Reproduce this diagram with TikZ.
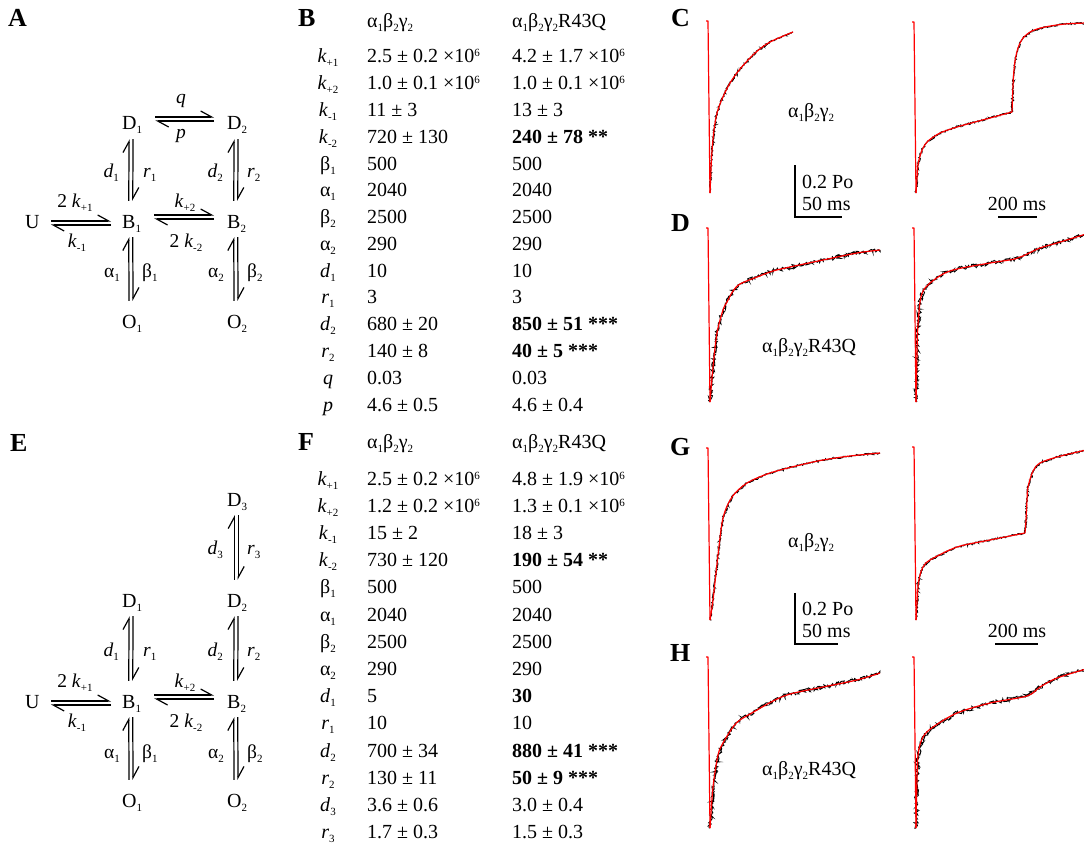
\documentclass[tikz,border=0pt]{standalone}
\usepackage{fontspec}
\setmainfont{Liberation Serif}
\usetikzlibrary{arrows.meta, calc, decorations.pathmorphing}

\newcommand{\lo}[1]{\raisebox{-4pt}{\fontsize{11}{11}\selectfont #1}}
\newcommand{\hi}[1]{\raisebox{6pt}{\fontsize{11}{11}\selectfont #1}}
\newcommand{\abg}{α\lo{1}β\lo{2}γ\lo{2}}
\newcommand{\tk}{\textit{k}}

% pair of opposite harpoons, forward one on its left
\newcommand{\hrates}[4]{%
  \draw[harp, shorten <=#3, shorten >=#3, transform canvas={yshift=#4+2pt}] (#1) -- (#2);
  \draw[harp, shorten <=#3, shorten >=#3, transform canvas={yshift=#4-2pt}] (#2) -- (#1);
}
\newcommand{\vrates}[2]{%
  \draw[harp, shorten <=5pt, shorten >=9pt, transform canvas={xshift=1pt}] (#1) -- (#2);
  \draw[harp, shorten <=9pt, shorten >=5pt, transform canvas={xshift=-3pt}] (#2) -- (#1);
}
\newcommand{\fittrace}[2]{%
  \draw[noisy=#1] plot coordinates {#2};
  \draw[fit] plot[smooth, tension=0.5] coordinates {#2};
}

\tikzset{
  state/.style={inner sep=0pt, text height=18pt, text depth=4pt, anchor=base west,
    font=\fontsize{20}{24}\selectfont},
  rate/.style={inner sep=0pt, font=\fontsize{19.5}{22}\selectfont},
  panel/.style={inner sep=0pt, anchor=base west, font=\fontsize{26}{30}\selectfont\bfseries},
  cell/.style={inner sep=0pt, anchor=base west, font=\fontsize{20}{24}\selectfont},
  sym/.style={inner sep=0pt, anchor=base, font=\fontsize{20}{24}\selectfont},
  harp/.style={line width=1.2pt, -{Straight Barb[left, length=11pt, width=12pt]}},
  fit/.style={red, line width=1.2pt, line join=round},
  noisy/.style={black, line width=0.9pt, decorate,
    decoration={random steps, segment length=1pt, amplitude=#1}},
  bar/.style={line width=2pt},
}

\begin{document}
\begin{tikzpicture}[x=1pt, y=-1pt]
\useasboundingbox (0,0) rectangle (1084,848);
\pgfmathsetseed{11}

% panel letters
\node[panel] (labA) at (8,27) {A};
\node[panel] (labB) at (298,27) {B};
\node[panel] (labC) at (671,27) {C};
\node[panel] (labD) at (671,231) {D};
\node[panel] (labE) at (10,451) {E};
\node[panel] (labF) at (298,450) {F};
\node[panel] (labG) at (670,455) {G};
\node[panel] (labH) at (670,661) {H};

%-------------------------------------------------------------------------------
% scheme A
%-------------------------------------------------------------------------------
\node[state] (aU) at (25,228) {U};
\node[state] (aD1) at (122,130) {D\lo{1}};
\node[state] (aD2) at (227,130) {D\lo{2}};
\node[state] (aB1) at (122,228) {B\lo{1}};
\node[state] (aB2) at (227,228) {B\lo{2}};
\node[state] (aO1) at (122,328) {O\lo{1}};
\node[state] (aO2) at (227,328) {O\lo{2}};
% transitions
\hrates{aU}{aB1}{11pt}{-2pt}
\hrates{aB1}{aB2}{13pt}{4pt}
\hrates{aD1}{aD2}{13pt}{4pt}
\vrates{aD1}{aB1}
\vrates{aD2}{aB2}
\vrates{aB1}{aO1}
\vrates{aB2}{aO2}
% rate labels
\node[rate, anchor=base] (aq) at (181,104) {\textit{q}};
\node[rate, anchor=base] (ap) at (181,139) {\textit{p}};
\node[rate, anchor=base] (akp1) at (75,207) {2 \tk\lo{+1}};
\node[rate, anchor=base] (akm1) at (77,247) {\tk\lo{-1}};
\node[rate, anchor=base] (akp2) at (185,207) {\tk\lo{+2}};
\node[rate, anchor=base] (akm2) at (186,247) {2 \tk\lo{-2}};
\node[rate, anchor=base east] (ad1) at (119,177) {\textit{d}\lo{1}};
\node[rate, anchor=base west] (ar1) at (143,177) {\textit{r}\lo{1}};
\node[rate, anchor=base east] (ad2) at (223,177) {\textit{d}\lo{2}};
\node[rate, anchor=base west] (ar2) at (247,177) {\textit{r}\lo{2}};
\node[rate, anchor=base east] (aa1) at (120,277) {α\lo{1}};
\node[rate, anchor=base west] (ab1) at (142,277) {β\lo{1}};
\node[rate, anchor=base east] (aa2) at (224,277) {α\lo{2}};
\node[rate, anchor=base west] (ab2) at (247,277) {β\lo{2}};

%-------------------------------------------------------------------------------
% scheme E
%-------------------------------------------------------------------------------
\node[state] (eD3) at (227,506) {D\lo{3}};
\node[state] (eU) at (25,708) {U};
\node[state] (eD1) at (122,607) {D\lo{1}};
\node[state] (eD2) at (227,607) {D\lo{2}};
\node[state] (eB1) at (122,708) {B\lo{1}};
\node[state] (eB2) at (227,708) {B\lo{2}};
\node[state] (eO1) at (122,807) {O\lo{1}};
\node[state] (eO2) at (227,807) {O\lo{2}};
% transitions
\hrates{eU}{eB1}{11pt}{-2pt}
\hrates{eB1}{eB2}{13pt}{4pt}
\vrates{eD3}{eD2}
\vrates{eD1}{eB1}
\vrates{eD2}{eB2}
\vrates{eB1}{eO1}
\vrates{eB2}{eO2}
% rate labels
\node[rate, anchor=base east] (ed3) at (223,554) {\textit{d}\lo{3}};
\node[rate, anchor=base west] (er3) at (247,554) {\textit{r}\lo{3}};
\node[rate, anchor=base] (ekp1) at (75,687) {2 \tk\lo{+1}};
\node[rate, anchor=base] (ekm1) at (77,727) {\tk\lo{-1}};
\node[rate, anchor=base] (ekp2) at (185,687) {\tk\lo{+2}};
\node[rate, anchor=base] (ekm2) at (186,727) {2 \tk\lo{-2}};
\node[rate, anchor=base east] (ed1) at (119,656) {\textit{d}\lo{1}};
\node[rate, anchor=base west] (er1) at (143,656) {\textit{r}\lo{1}};
\node[rate, anchor=base east] (ed2) at (223,656) {\textit{d}\lo{2}};
\node[rate, anchor=base west] (er2) at (247,656) {\textit{r}\lo{2}};
\node[rate, anchor=base east] (ea1) at (120,758) {α\lo{1}};
\node[rate, anchor=base west] (eb1) at (142,758) {β\lo{1}};
\node[rate, anchor=base east] (ea2) at (224,758) {α\lo{2}};
\node[rate, anchor=base west] (eb2) at (247,758) {β\lo{2}};

%-------------------------------------------------------------------------------
% tables B and F
%-------------------------------------------------------------------------------
\node[cell] (Bhwt) at (367,28) {\abg};
\node[cell] (Bhmut) at (512,28) {\abg R43Q};
\foreach \lab/\wt/\mut [count=\i from 0] in {
  {\tk\lo{+1}}/{2.5 ± 0.2 ×10\hi{6}}/{4.2 ± 1.7 ×10\hi{6}},
  {\tk\lo{+2}}/{1.0 ± 0.1 ×10\hi{6}}/{1.0 ± 0.1 ×10\hi{6}},
  {\tk\lo{-1}}/{11 ± 3}/{13 ± 3},
  {\tk\lo{-2}}/{720 ± 130}/{\textbf{240 ± 78 **}},
  {β\lo{1}}/{500}/{500},
  {α\lo{1}}/{2040}/{2040},
  {β\lo{2}}/{2500}/{2500},
  {α\lo{2}}/{290}/{290},
  {\textit{d}\lo{1}}/{10}/{10},
  {\textit{r}\lo{1}}/{3}/{3},
  {\textit{d}\lo{2}}/{680 ± 20}/{\textbf{850 ± 51 ***}},
  {\textit{r}\lo{2}}/{140 ± 8}/{\textbf{40 ± 5 ***}},
  {\textit{q}}/{0.03}/{0.03},
  {\textit{p}}/{4.6 ± 0.5}/{4.6 ± 0.4}}
{
  \node[sym] (Bsym\i) at (328, 63+26.77*\i) {\lab};
  \node[cell] (Bwt\i) at (367, 63+26.77*\i) {\wt};
  \node[cell] (Bmut\i) at (512, 63+26.77*\i) {\mut};
}

\node[cell] (Fhwt) at (367,448) {\abg};
\node[cell] (Fhmut) at (512,448) {\abg R43Q};
\foreach \lab/\wt/\mut [count=\i from 0] in {
  {\tk\lo{+1}}/{2.5 ± 0.2 ×10\hi{6}}/{4.8 ± 1.9 ×10\hi{6}},
  {\tk\lo{+2}}/{1.2 ± 0.2 ×10\hi{6}}/{1.3 ± 0.1 ×10\hi{6}},
  {\tk\lo{-1}}/{15 ± 2}/{18 ± 3},
  {\tk\lo{-2}}/{730 ± 120}/{\textbf{190 ± 54 **}},
  {β\lo{1}}/{500}/{500},
  {α\lo{1}}/{2040}/{2040},
  {β\lo{2}}/{2500}/{2500},
  {α\lo{2}}/{290}/{290},
  {\textit{d}\lo{1}}/{5}/{\textbf{30}},
  {\textit{r}\lo{1}}/{10}/{10},
  {\textit{d}\lo{2}}/{700 ± 34}/{\textbf{880 ± 41 ***}},
  {\textit{r}\lo{2}}/{130 ± 11}/{\textbf{50 ± 9 ***}},
  {\textit{d}\lo{3}}/{3.6 ± 0.6}/{3.0 ± 0.4},
  {\textit{r}\lo{3}}/{1.7 ± 0.3}/{1.5 ± 0.3}}
{
  \node[sym] (Fsym\i) at (328, 485+27.2*\i) {\lab};
  \node[cell] (Fwt\i) at (367, 485+27.2*\i) {\wt};
  \node[cell] (Fmut\i) at (512, 485+27.2*\i) {\mut};
}

%-------------------------------------------------------------------------------
% traces C, D (scheme A fits)
%-------------------------------------------------------------------------------
\fittrace{1}{(710,193) (711,169) (712,151) (714,130) (717,113) (722,99) (730,83)
  (740,69) (755,53) (770,42) (793,32)}
\draw[fit] (706,21) -- (708,21) -- (710,193);
\fittrace{1}{(916,193) (917,178) (918,165) (920,156) (923,148) (928,141) (940,133)
  (957,127) (975,122) (990,118) (1012,112)}
\fittrace{1}{(1012,112) (1012.6,95) (1013.5,76) (1015,61) (1018,48) (1023,38)
  (1032,31) (1045,27) (1065,24) (1086,23)}
\draw[fit] (912,22) -- (914,22) -- (916,193);
\fittrace{2}{(710,402) (713,367) (717,333) (723,310) (727,302) (733,291) (740,284)
  (757,277) (773,271) (790,267) (823,260) (857,253) (880,250)}
\draw[fit] (706,228) -- (708,228) -- (710,402);
\fittrace{2}{(916,402) (916.5,380) (917.5,333) (920,302) (923,291) (930,283) (943,274)
  (957,269) (990,263) (1015,259) (1023,256) (1040,248) (1057,243) (1086,234)}
\draw[fit] (912,228) -- (914,228) -- (916,402);

\node[cell] (cwt) at (788,118) {\abg};
\node[cell] (dmut) at (762,352) {\abg R43Q};
\draw[bar] (795,165) -- (795,217) -- (842,217);
\node[cell] (cpo) at (802,188) {0.2 Po};
\node[cell] (cms) at (802,210) {50 ms};
\draw[bar] (998,217) -- (1037,217);
\node[sym] (cms2) at (1017,210) {200 ms};

%-------------------------------------------------------------------------------
% traces G, H (scheme E fits)
%-------------------------------------------------------------------------------
\fittrace{1}{(710,620) (713,600) (718,555) (723,518) (732,497) (747,483) (770,473)
  (800,465) (823,460) (850,456) (880,453)}
\draw[fit] (706,448) -- (708,448) -- (710,620);
\fittrace{1}{(916,620) (918,587) (920,575) (923,567) (930,560) (957,547) (990,540)
  (1025,533)}
\fittrace{1}{(1025,533) (1026,520) (1027,500) (1028,487) (1033,471) (1040,463)
  (1057,457) (1086,450)}
\draw[fit] (912,447) -- (914,447) -- (916,620);
\fittrace{2}{(710,828) (713,787) (718,755) (723,743) (733,727) (740,720) (757,710)
  (773,701) (790,694) (823,687) (857,680) (880,673)}
\draw[fit] (706,657) -- (708,657) -- (710,828);
\fittrace{2}{(916,828) (916.5,800) (918,755) (923,737) (933,727) (957,713) (990,703)
  (1027,696) (1040,687) (1057,678) (1086,669)}
\draw[fit] (912,657) -- (914,657) -- (916,828);

\node[cell] (gwt) at (788,547) {\abg};
\node[cell] (hmut) at (762,775) {\abg R43Q};
\draw[bar] (795,593) -- (795,644) -- (838,644);
\node[cell] (gpo) at (802,615) {0.2 Po};
\node[cell] (gms) at (802,637) {50 ms};
\draw[bar] (995,644) -- (1038,644);
\node[sym] (gms2) at (1017,637) {200 ms};
\end{tikzpicture}
\end{document}
